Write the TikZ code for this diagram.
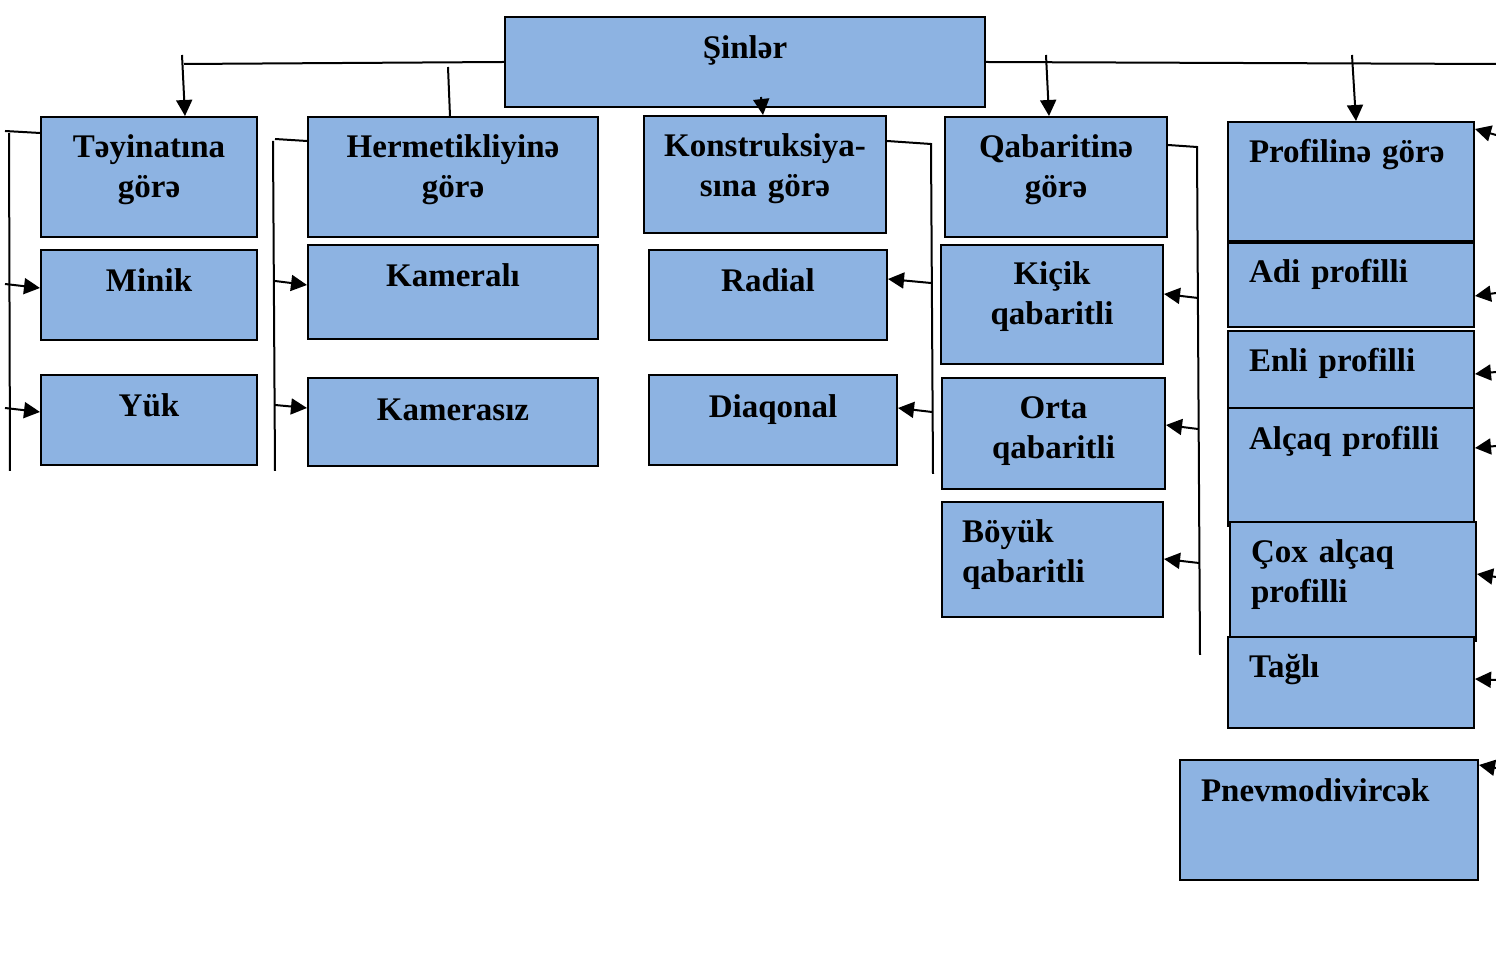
\documentclass[tikz,border=0pt]{standalone}
\usepackage{fontspec}
\setmainfont{Liberation Serif}
\usetikzlibrary{arrows.meta,calc}
\definecolor{tyre}{HTML}{8DB3E2}
\tikzset{
  box/.style n args={3}{draw=black,fill=tyre,line width=1pt,anchor=north west,
              font=\bfseries\fontsize{16.5}{20}\selectfont,align=center,
              inner xsep=0pt,inner ysep=0pt,text width=#1,text height=#2,text depth=#3},
  lbox/.style n args={3}{box={#1}{#2}{#3},align=left,inner xsep=10.5pt},
  link/.style={line width=1pt},
  arrow/.style={-{Triangle[length=8pt,width=8pt]},line width=1pt},
}

\begin{document}
\begin{tikzpicture}[x=0.5pt,y=-0.5pt]
  \useasboundingbox (0,0) rectangle (1496,961);

  % root
  \node[box={240pt}{21pt}{24pt}] (sin) at (504,16) {Şinlər};

  % first row: the five groupings
  \node[box={108pt}{20.5pt}{39.5pt}] (tey) at (40,116) {Təyinatına\\görə};
  \node[box={145pt}{20.5pt}{39.5pt}] (her) at (307,116) {Hermetikliyinə\\görə};
  \node[box={121pt}{20.5pt}{38pt}] (kon) at (643,115) {Konstruksiya-\\sına görə};
  \node[box={111pt}{20.5pt}{39.5pt}] (qab) at (944,116) {Qabaritinə\\görə};
  \node[lbox={102pt}{20.5pt}{39pt}] (pro) at (1227,121) {Profilinə görə};

  % kinds under each grouping
  \node[box={108pt}{21pt}{24pt}] (min) at (40,249) {Minik};
  \node[box={108pt}{21pt}{24pt}] (yuk) at (40,374) {Yük};
  \node[box={145pt}{21pt}{26pt}] (kam) at (307,244) {Kameralı};
  \node[box={145pt}{21.5pt}{22.5pt}] (kms) at (307,377) {Kamerasız};
  \node[box={119pt}{21pt}{24pt}] (rad) at (648,249) {Radial};
  \node[box={124pt}{21.5pt}{23.5pt}] (dia) at (648,374) {Diaqonal};
  \node[box={111pt}{20pt}{39.5pt}] (kic) at (940,244) {Kiçik\\qabaritli};
  \node[box={111.5pt}{20.5pt}{35pt}] (ort) at (941,377) {Orta\\qabaritli};
  \node[lbox={90.5pt}{20.5pt}{37pt},inner xsep=10pt] (boy) at (941,501) {Böyük\\qabaritli};
  \node[lbox={102pt}{20pt}{22pt}] (adi) at (1227,242) {Adi profilli};
  \node[lbox={102pt}{20.5pt}{18pt}] (enl) at (1227,330) {Enli profilli};
  \node[lbox={102pt}{21pt}{38pt}] (alc) at (1227,407) {Alçaq profilli};
  \node[lbox={102pt}{20.5pt}{39pt}] (cox) at (1229,521) {Çox alçaq\\profilli};
  \node[lbox={102pt}{20.5pt}{25pt}] (tag) at (1227,636) {Tağlı};
  \node[lbox={128pt}{21pt}{39pt}] (pnv) at (1179,759) {Pnevmodivircək};

  % bus from the root
  \coordinate (busL) at (184,64);
  \coordinate (busR) at (1496,64);
  \coordinate (dTey) at (182,55);
  \coordinate (dHer) at (448,67);
  \coordinate (dKon) at (761,97);
  \coordinate (dQab) at (1046,55);
  \coordinate (dPro) at (1352,55);
  \draw[link] (sin.west) -- (busL);
  \draw[link] (sin.east) -- (busR);
  \draw[arrow] (dTey) -- ($(tey.north west)+(145,0)$);
  \draw[link] (dHer) -- ($(her.north west)+(143,0)$);
  \draw[arrow] (dKon) -- ($(kon.north west)+(120,0)$);
  \draw[arrow] (dQab) -- ($(qab.north west)+(105,0)$);
  \draw[arrow] (dPro) -- ($(pro.north west)+(129,0)$);

  % left feeders
  \coordinate (s1) at (5,131);   \coordinate (t1) at (9,133);   \coordinate (b1) at (10,471);
  \coordinate (m1) at (5,284);   \coordinate (y1) at (5,408);
  \draw[link] (s1) -- ($(tey.north west)+(0,17)$);
  \draw[link] (t1) -- (b1);
  \draw[arrow] (m1) -- ($(min.north west)+(0,39)$);
  \draw[arrow] (y1) -- ($(yuk.north west)+(0,38)$);

  \coordinate (s2) at (275,139); \coordinate (t2) at (273,141); \coordinate (b2) at (275,471);
  \coordinate (m2) at (275,281); \coordinate (y2) at (275,405);
  \draw[link] (s2) -- ($(her.north west)+(0,25)$);
  \draw[link] (t2) -- (b2);
  \draw[arrow] (m2) -- ($(kam.north west)+(0,41)$);
  \draw[arrow] (y2) -- ($(kms.north west)+(0,31)$);

  % right feeders
  \coordinate (t3) at (931,144); \coordinate (b3) at (933,474);
  \coordinate (m3) at (931,283); \coordinate (y3) at (932,412);
  \draw[link] ($(kon.north east)+(0,26)$) -- (t3) -- (b3);
  \draw[arrow] (m3) -- ($(rad.north east)+(0,30)$);
  \draw[arrow] (y3) -- ($(dia.north east)+(0,34)$);

  \coordinate (t4) at (1197,147); \coordinate (b4) at (1200,655);
  \coordinate (k4) at (1198,298); \coordinate (o4) at (1198,429); \coordinate (g4) at (1199,563);
  \draw[link] ($(qab.north east)+(0,29)$) -- (t4) -- (b4);
  \draw[arrow] (k4) -- ($(kic.north east)+(0,50)$);
  \draw[arrow] (o4) -- ($(ort.north east)+(0,48)$);
  \draw[arrow] (g4) -- ($(boy.north east)+(0,58)$);

  % profiles are fed from beyond the right edge
  \foreach \n/\ya/\yb in {pro/135/8, adi/293/54, enl/372/44, alc/446/41,
                          cox/577/53, tag/680/43, pnv/768/6}{
    \coordinate (e\n) at (1496,\ya);
    \draw[arrow] (e\n) -- ($(\n.north east)+(0,\yb)$);
  }
\end{tikzpicture}
\end{document}
